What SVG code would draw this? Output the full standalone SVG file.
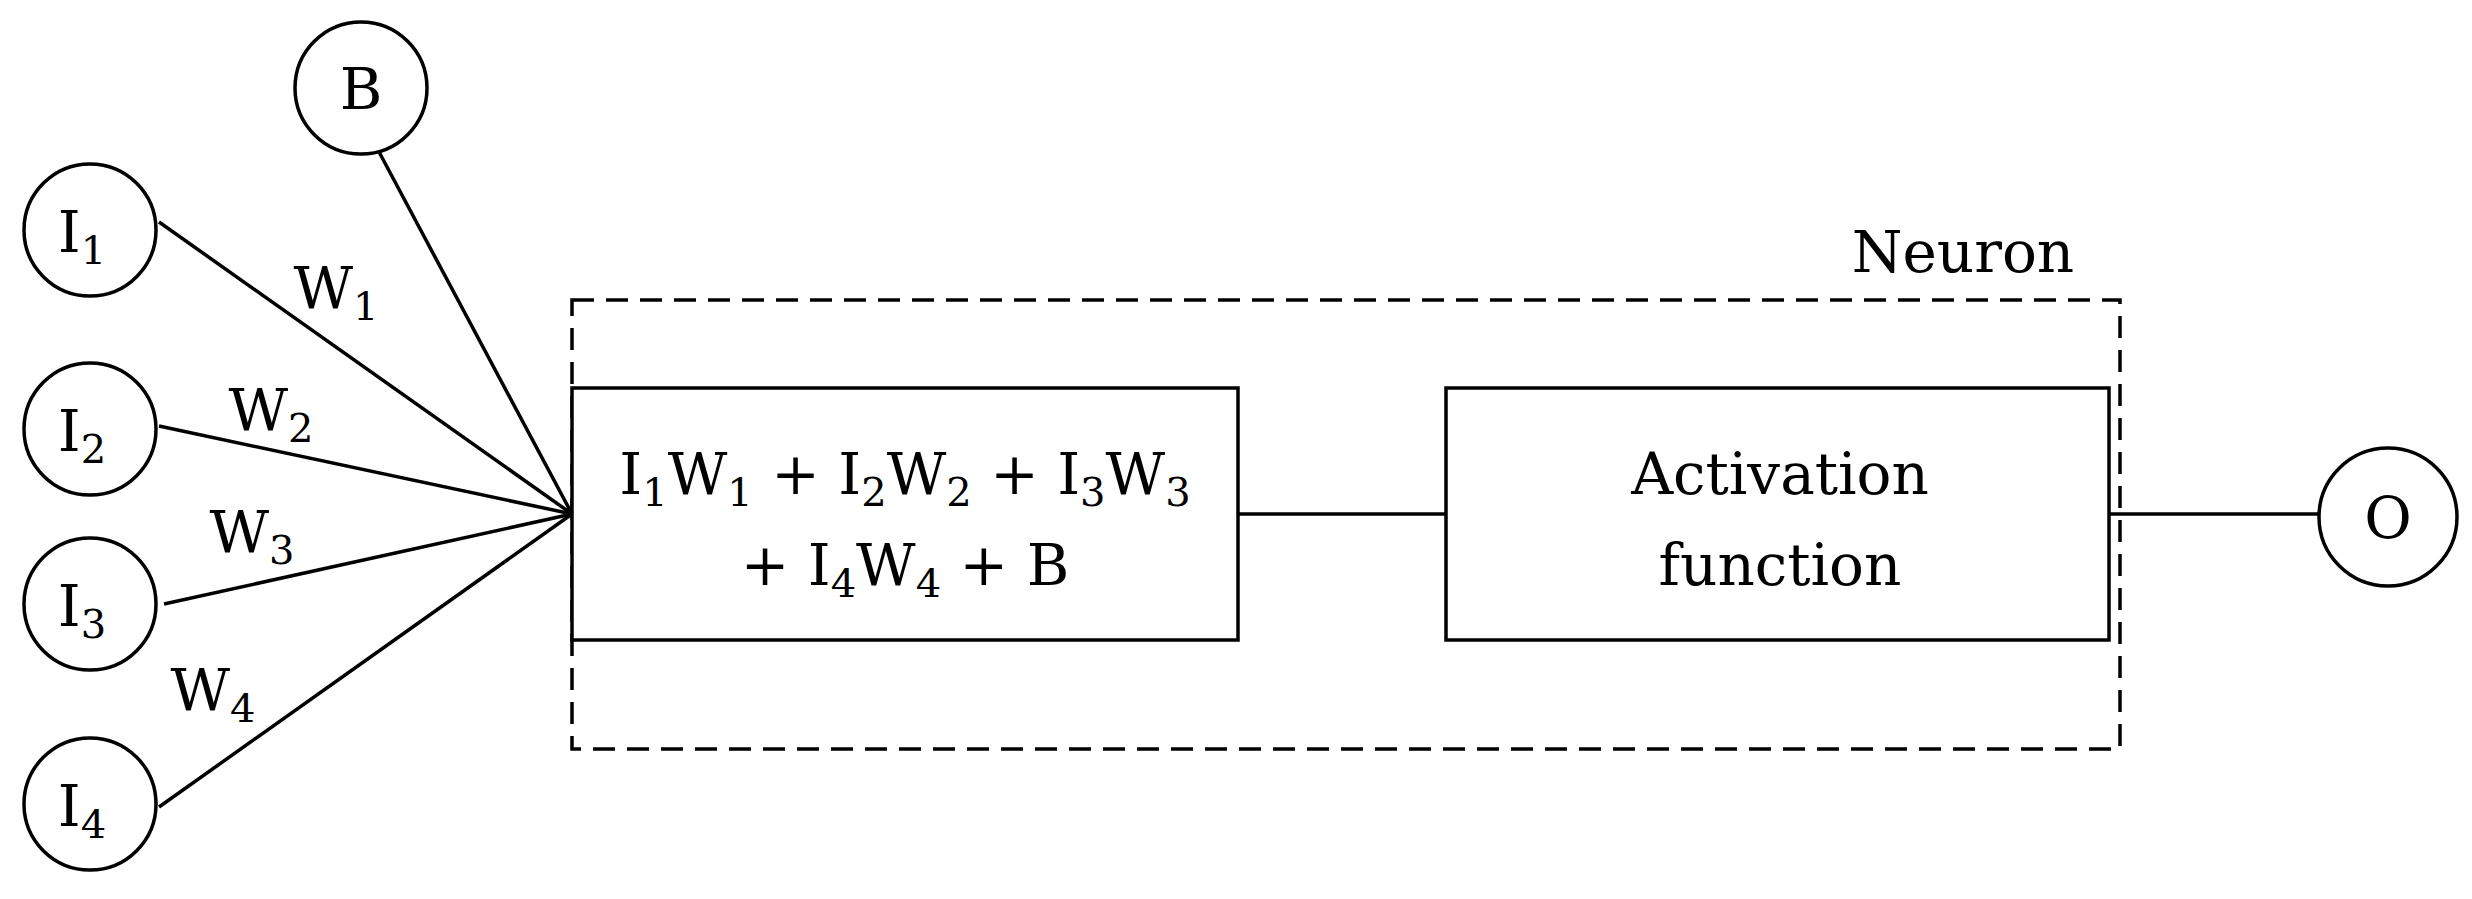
<svg xmlns="http://www.w3.org/2000/svg" width="2472" height="899" viewBox="0 0 2472 899">
<style>
.n{fill:#fff;stroke:#000;stroke-width:3.5}
.c{stroke:#000;stroke-width:3.5;fill:none}
text{font-family:"DejaVu Serif","Liberation Serif",serif;font-size:58px;fill:#000;text-anchor:middle}
.s{font-size:40px}
</style>
<rect width="2472" height="899" fill="#fff"/>
<g id="connectors">
<line class="c" x1="159" y1="222" x2="572" y2="514"/>
<line class="c" x1="159" y1="426" x2="572" y2="514"/>
<line class="c" x1="164" y1="604" x2="572" y2="514"/>
<line class="c" x1="159" y1="807" x2="572" y2="514"/>
<line class="c" x1="378" y1="150" x2="572" y2="514"/>
<line class="c" x1="1238" y1="514" x2="1446" y2="514"/>
<line class="c" x1="2109" y1="514" x2="2319" y2="514"/>
</g>
<g id="neuron">
<rect x="572" y="300" width="1548" height="449" fill="none" stroke="#000" stroke-width="3.5" stroke-dasharray="22,12"/>
<text x="1963" y="272">Neuron</text>
</g>
<g id="I1"><circle class="n" cx="90" cy="230" r="66"/><text x="82" y="252">I<tspan class="s" dy="12">1</tspan></text></g>
<g id="I2"><circle class="n" cx="90" cy="429" r="66"/><text x="82" y="451">I<tspan class="s" dy="12">2</tspan></text></g>
<g id="I3"><circle class="n" cx="90" cy="604" r="66"/><text x="82" y="626">I<tspan class="s" dy="12">3</tspan></text></g>
<g id="I4"><circle class="n" cx="90" cy="804" r="66"/><text x="82" y="826">I<tspan class="s" dy="12">4</tspan></text></g>
<g id="B"><circle class="n" cx="361" cy="88" r="66"/><text x="361" y="109">B</text></g>
<g id="O"><circle class="n" cx="2388" cy="517" r="69"/><text x="2388" y="538">O</text></g>
<g id="labels">
<text x="336" y="308">W<tspan class="s" dy="12">1</tspan></text>
<text x="271" y="430">W<tspan class="s" dy="12">2</tspan></text>
<text x="252" y="552">W<tspan class="s" dy="12">3</tspan></text>
<text x="213" y="710">W<tspan class="s" dy="12">4</tspan></text>
</g>
<g id="sum"><rect class="n" x="572" y="388" width="666" height="252"/>
<text x="905" y="494">I<tspan class="s" dy="12">1</tspan><tspan dy="-12">W</tspan><tspan class="s" dy="12">1</tspan><tspan dy="-12"> + I</tspan><tspan class="s" dy="12">2</tspan><tspan dy="-12">W</tspan><tspan class="s" dy="12">2</tspan><tspan dy="-12"> + I</tspan><tspan class="s" dy="12">3</tspan><tspan dy="-12">W</tspan><tspan class="s" dy="12">3</tspan></text>
<text x="905" y="585">+ I<tspan class="s" dy="12">4</tspan><tspan dy="-12">W</tspan><tspan class="s" dy="12">4</tspan><tspan dy="-12"> + B</tspan></text>
</g>
<g id="activation"><rect class="n" x="1446" y="388" width="663" height="252"/>
<text x="1780" y="494">Activation</text>
<text x="1780" y="585">function</text>
</g>
</svg>
